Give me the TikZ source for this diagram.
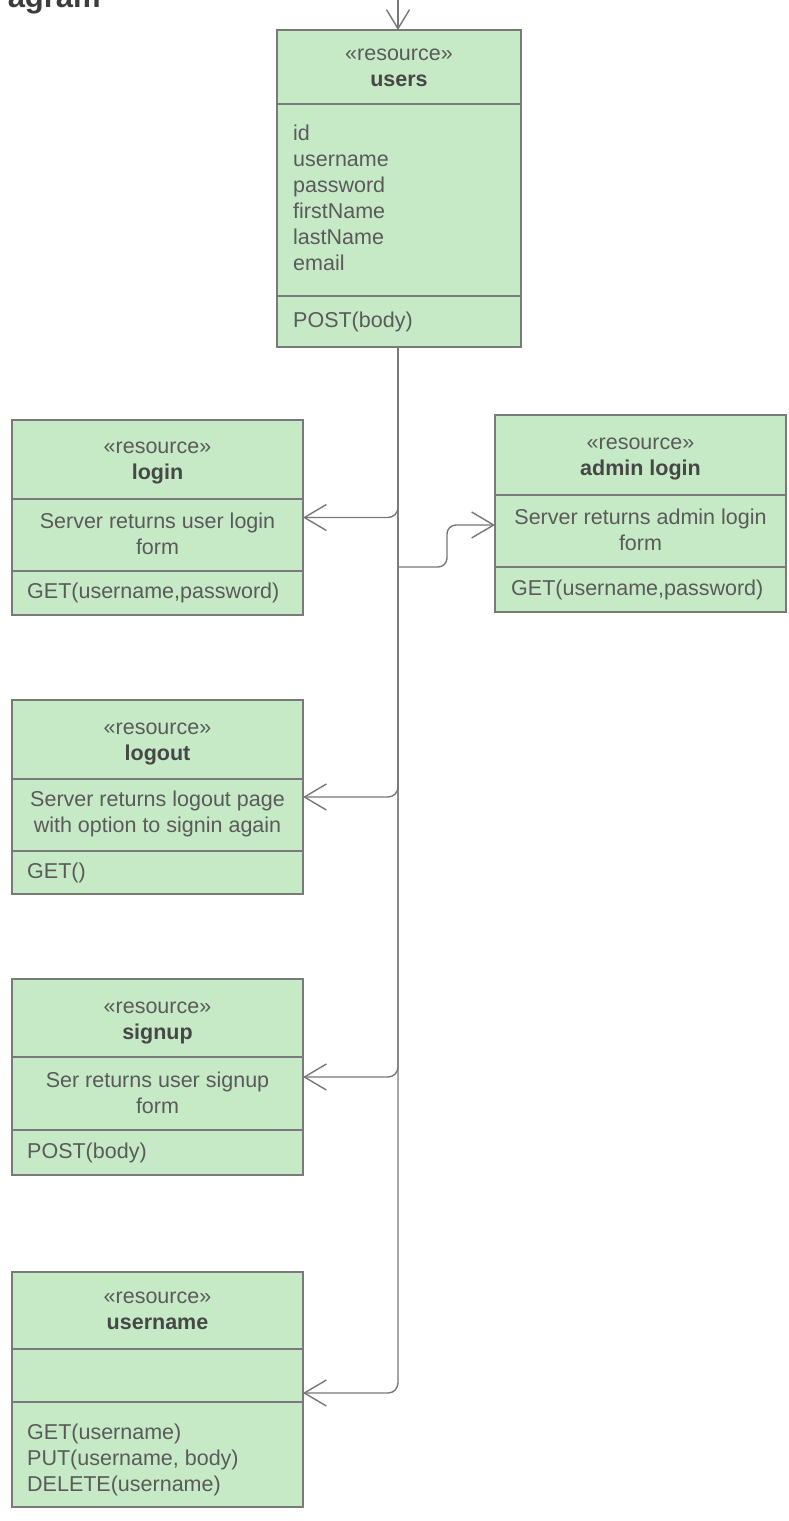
\documentclass[tikz,border=0pt]{standalone}
\usepackage{fontspec}
\setmainfont{Liberation Sans}
\usetikzlibrary{arrows.meta}
\definecolor{boxfill}{HTML}{C6EAC6}
\definecolor{boxline}{HTML}{7A7A7A}
\definecolor{txt}{HTML}{5A5A5A}
\definecolor{txtb}{HTML}{474747}
\definecolor{connc}{HTML}{777777}
\definecolor{titlec}{HTML}{3C3C3C}
\newcommand{\fsz}{\fontsize{21.5}{26}\selectfont}
\begin{document}
\begin{tikzpicture}[x=1pt,y=-1pt,
  resbox/.style={draw=boxline,fill=boxfill,line width=1.4pt,anchor=north west,inner sep=0pt,outer sep=0pt},
  divline/.style={draw=boxline,line width=1.4pt},
  stereo/.style={anchor=base,text=txt,font=\fsz,inner sep=0pt},
  rname/.style={anchor=base,text=txtb,font=\fsz\bfseries,inner sep=0pt},
  ltext/.style={anchor=base west,text=txt,font=\fsz,inner sep=0pt},
  desc/.style={anchor=center,text=txt,font=\fsz,align=center,inner sep=0pt},
  conn/.style={draw=connc,line width=1.4pt,rounded corners=10pt,-{Straight Barb[length=22pt,width=26pt]}}
]
\useasboundingbox (0,0) rectangle (788,1521);
\clip (0,0) rectangle (788,1521);

% title fragment
\node[anchor=base east,text=titlec,font=\fontsize{31}{36}\selectfont\bfseries,inner sep=0pt] (title) at (101,7) {agram};

% users
\node[resbox,minimum width=244,minimum height=317] (users) at (277,30) {};
\draw[divline] (users.west |- 0,104) -- (users.east |- 0,104);
\draw[divline] (users.west |- 0,296) -- (users.east |- 0,296);
\node[stereo] (usersS) at (399,60) {«resource»};
\node[rname] (usersN) at (399,86) {users};
\node[ltext] (a1) at (293,140) {id};
\node[ltext] (a2) at (293,166) {username};
\node[ltext] (a3) at (293,192) {password};
\node[ltext] (a4) at (293,218) {firstName};
\node[ltext] (a5) at (293,244) {lastName};
\node[ltext] (a6) at (293,270) {email};
\node[ltext] (m1) at (293,327) {POST(body)};

% login
\node[resbox,minimum width=291,minimum height=195] (login) at (12,420) {};
\draw[divline] (login.west |- 0,499) -- (login.east |- 0,499);
\draw[divline] (login.west |- 0,571) -- (login.east |- 0,571);
\node[stereo] (loginS) at (157.5,453) {«resource»};
\node[rname] (loginN) at (157.5,479) {login};
\node[desc] (loginD) at (157.5,534) {Server returns user login\\form};
\node[ltext] (loginM) at (27,598) {GET(username,password)};

% admin login
\node[resbox,minimum width=291,minimum height=197] (admin) at (495,415) {};
\draw[divline] (admin.west |- 0,495) -- (admin.east |- 0,495);
\draw[divline] (admin.west |- 0,567) -- (admin.east |- 0,567);
\node[stereo] (adminS) at (640.5,449) {«resource»};
\node[rname] (adminN) at (640.5,475) {admin login};
\node[desc] (adminD) at (640.5,530) {Server returns admin login\\form};
\node[ltext] (adminM) at (511,595) {GET(username,password)};

% logout
\node[resbox,minimum width=291,minimum height=194] (logout) at (12,700) {};
\draw[divline] (logout.west |- 0,779) -- (logout.east |- 0,779);
\draw[divline] (logout.west |- 0,851) -- (logout.east |- 0,851);
\node[stereo] (logoutS) at (157.5,734) {«resource»};
\node[rname] (logoutN) at (157.5,760) {logout};
\node[desc] (logoutD) at (157.5,814) {Server returns logout page\\with option to signin again};
\node[ltext] (logoutM) at (27,878) {GET()};

% signup
\node[resbox,minimum width=291,minimum height=196] (signup) at (12,979) {};
\draw[divline] (signup.west |- 0,1057) -- (signup.east |- 0,1057);
\draw[divline] (signup.west |- 0,1130) -- (signup.east |- 0,1130);
\node[stereo] (signupS) at (157.5,1013) {«resource»};
\node[rname] (signupN) at (157.5,1039) {signup};
\node[desc] (signupD) at (157.5,1093) {Ser returns user signup\\form};
\node[ltext] (signupM) at (27,1158) {POST(body)};

% username
\node[resbox,minimum width=291,minimum height=235] (uname) at (12,1272) {};
\draw[divline] (uname.west |- 0,1349) -- (uname.east |- 0,1349);
\draw[divline] (uname.west |- 0,1402) -- (uname.east |- 0,1402);
\node[stereo] (unameS) at (157.5,1303) {«resource»};
\node[rname] (unameN) at (157.5,1329) {username};
\node[ltext] (unameM1) at (27,1439) {GET(username)};
\node[ltext] (unameM2) at (27,1465) {PUT(username, body)};
\node[ltext] (unameM3) at (27,1491) {DELETE(username)};

% connectors
\coordinate (topin) at (398,-10);
\draw[conn,rounded corners=0pt,-{Straight Barb[length=19pt,width=23pt]}] (topin) -- (users.north -| topin);
\coordinate (trunk) at (398,347);
\draw[conn] (trunk) |- (login.east);
\draw[conn] (trunk) |- (logout.east);
\draw[conn] (trunk) |- (signup.east);
\draw[conn] (trunk) |- ([yshift=-3.5pt]uname.east);
\coordinate (jn) at (398,567);
\draw[conn,rounded corners=9pt] (jn) -- (447,567) -- (447,525) -- (admin.west |- 0,525);
\end{tikzpicture}
\end{document}
